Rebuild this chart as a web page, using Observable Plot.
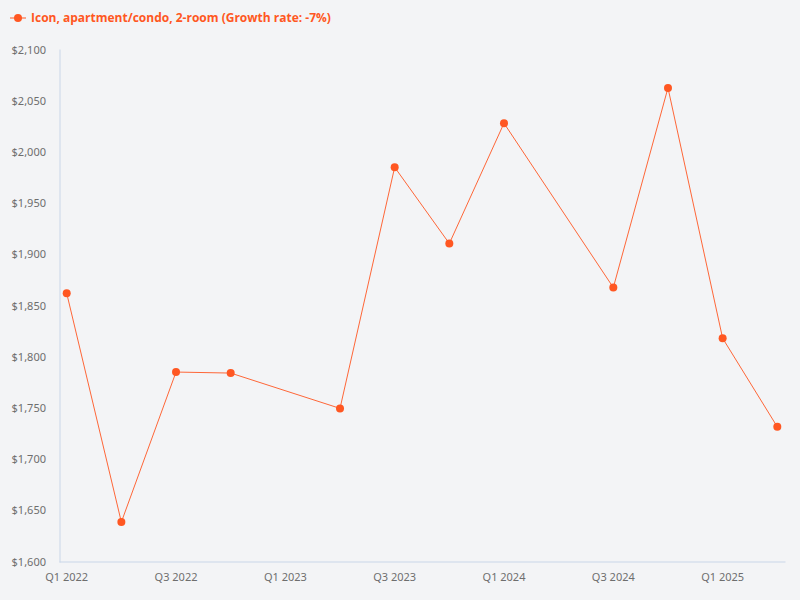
<!DOCTYPE html>
<html>
<head>
<meta charset="utf-8">
<script src="https://cdn.jsdelivr.net/npm/d3@7"></script>
<script src="https://cdn.jsdelivr.net/npm/@observablehq/plot@0.6"></script>
<style>
html,body{margin:0;padding:0;background:#f3f4f6;width:800px;height:600px;overflow:hidden;font-family:"Open Sans",sans-serif}
#legend{height:36px;box-sizing:border-box;padding-left:10px;display:flex;align-items:center;color:#ff5722;font-weight:700;font-size:12px;line-height:36px}
#legend svg{margin-right:5px;display:block}
#chart svg{display:block;background:transparent}
</style>
</head>
<body>
<div id="legend"><svg width="16" height="10"><line x1="0" x2="16" y1="5" y2="5" stroke="#ff5722"/><circle cx="8" cy="5" r="4" fill="#ff5722"/></svg><span id="legendText"></span></div>
<div id="chart"></div>
<script>
const seriesName = "Icon, apartment/condo, 2-room (Growth rate: -7%)";
const quarters = ["Q1 2022","Q2 2022","Q3 2022","Q4 2022","Q1 2023","Q2 2023","Q3 2023","Q4 2023","Q1 2024","Q2 2024","Q3 2024","Q4 2024","Q1 2025","Q2 2025"];
const values = [1862.5,1639,1785.5,1784.5,null,1750,1985.5,1911,2028.5,null,1868,2063,1818.5,1732];
const xTicks = ["Q1 2022","Q3 2022","Q1 2023","Q3 2023","Q1 2024","Q3 2024","Q1 2025"];
const yTicks = [1600,1650,1700,1750,1800,1850,1900,1950,2000,2050,2100];
const color = "#ff5722", axisColor = "#c9d6e8", textColor = "#6e6e6e";

document.getElementById("legendText").textContent = seriesName;
const rows = quarters.map((q,i)=>({q,v:values[i]})).filter(d=>d.v!==null);

const chart = Plot.plot({
  width: 800,
  height: 564,
  marginTop: 13.5,
  marginBottom: 38.5,
  marginLeft: 59.5,
  marginRight: 15.5,
  style: {background:"transparent", fontFamily:'"Noto Sans",sans-serif', fontSize:"11px", color:textColor},
  x: {type:"point", domain:quarters, range:[66.2,776.8], padding:0, round:false},
  y: {domain:[1600,2100]},
  marks: [
    Plot.frame({anchor:"left", stroke:axisColor}),
    Plot.frame({anchor:"bottom", stroke:axisColor}),
    Plot.axisY({ticks:yTicks, tickSize:0, tickPadding:14, label:null, tickFormat:d=>"$"+d3.format(",")(d), fill:textColor}),
    Plot.axisX({ticks:xTicks, tickSize:0, tickPadding:11.5, label:null, fill:textColor}),
    Plot.line(rows,{x:"q",y:"v",stroke:color,strokeWidth:1,strokeOpacity:0.9}),
    Plot.dot(rows,{x:"q",y:"v",fill:color,r:4})
  ]
});
document.getElementById("chart").append(chart);
</script>
</body>
</html>
